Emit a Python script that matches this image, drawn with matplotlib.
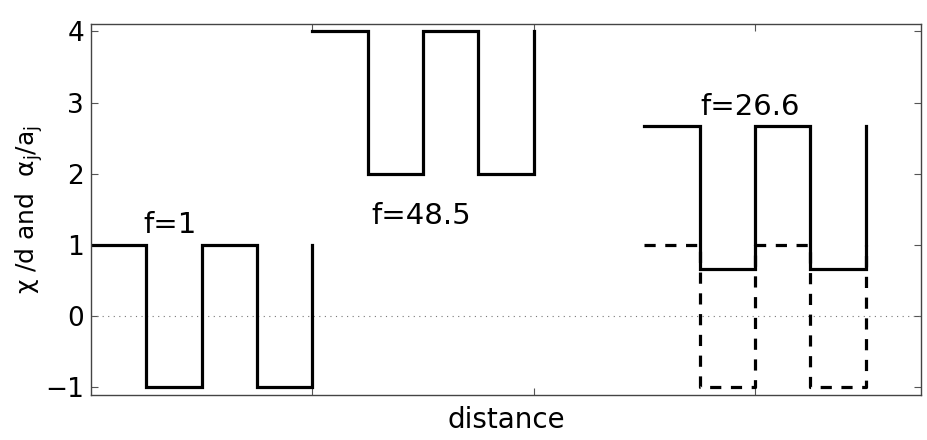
import numpy as np
import matplotlib
matplotlib.use('Agg')
import matplotlib.pyplot as plt

plt.rcParams['font.family'] = ['DejaVu Sans']
plt.rcParams['mathtext.fontset'] = 'dejavusans'

# square waves (steps-post, last value repeated)
x_f1 = [0.0, 0.25, 0.5, 0.75, 1.0]
y_f1 = [1, -1, 1, -1, 1]

x_f48 = [1.0, 1.25, 1.5, 1.75, 2.0]
y_f48 = [4, 2, 4, 2, 4]

x_f26 = [2.5, 2.75, 3.0, 3.25, 3.5]
y_f26 = [2.667, 0.667, 2.667, 0.667, 2.667]
y_f26_dash = [1, -1, 1, -1, 1]

labels = ['f=1', 'f=48.5', 'f=26.6']
label_x = [0.357, 1.49, 2.98]
label_y = [1.17, 1.30, 2.82]

fig = plt.figure(figsize=(9.28, 4.4), dpi=100)
ax = fig.add_axes([0.098, 0.1034, 0.8945, 0.8416])

ax.axhline(0, linestyle=(0, (1, 4)), color='#777777', linewidth=0.8)

lw = 2.3
ax.plot(x_f1, y_f1, drawstyle='steps-post', color='k', linewidth=lw, solid_joinstyle='miter')
ax.plot(x_f48, y_f48, drawstyle='steps-post', color='k', linewidth=lw, solid_joinstyle='miter')
ax.plot(x_f26, y_f26_dash, drawstyle='steps-post', color='k', linewidth=lw, linestyle=(0, (3.5, 3.0)))
ax.plot(x_f26, y_f26, drawstyle='steps-post', color='k', linewidth=lw, solid_joinstyle='miter')

for s, xx, yy in zip(labels, label_x, label_y):
    ax.text(xx, yy, s, ha='center', va='baseline', fontsize=21)

ax.set_xlim(0, 3.75)
ax.set_ylim(-1.1, 4.1)
ax.set_xticks([1, 2, 3])
ax.set_xticklabels([])
ax.set_yticks([-1, 0, 1, 2, 3, 4])
ax.set_yticklabels(['\u22121', '0', '1', '2', '3', '4'])
ax.tick_params(axis='both', which='both', direction='in', top=True, right=True,
               length=5, width=0.8, color='#555555', labelsize=19, pad=5)
for sp in ax.spines.values():
    sp.set_color('#444444')
    sp.set_linewidth(1.0)

ax.set_xlabel('distance', fontsize=20, labelpad=3)
ax.set_ylabel('\u03c7 /d and  \u03b1$_\\mathrm{j}$/a$_\\mathrm{j}$', fontsize=18, labelpad=0)

plt.savefig('out.png', dpi=100)
